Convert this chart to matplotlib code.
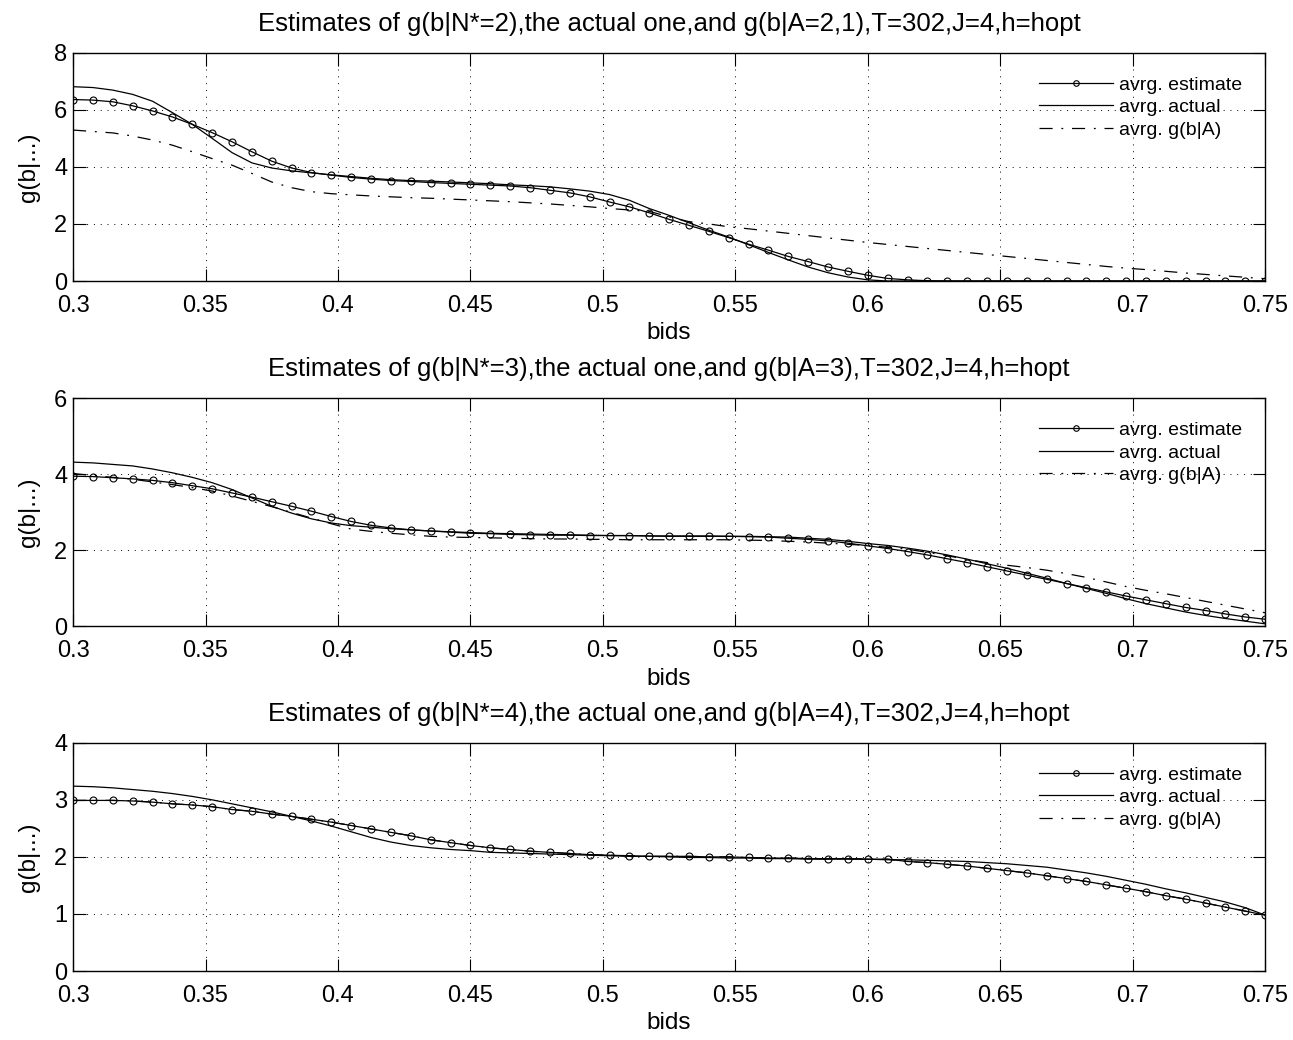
import matplotlib
matplotlib.use("Agg")
import matplotlib.pyplot as plt
import numpy as np

plt.rcParams['font.family'] = ['Liberation Sans', 'DejaVu Sans']

# bid grid: 61 points from 0.3 to 0.75 (step 0.0075)
bids = np.linspace(0.3, 0.75, 61)

# panel 1: N*=2
est1 = [6.36, 6.34, 6.28, 6.14, 5.96, 5.75, 5.49, 5.20, 4.88, 4.53,
        4.20, 3.96, 3.80, 3.71, 3.63, 3.57, 3.52, 3.49, 3.45, 3.42,
        3.39, 3.36, 3.33, 3.27, 3.18, 3.09, 2.95, 2.77, 2.60, 2.39,
        2.16, 1.95, 1.74, 1.52, 1.29, 1.08, 0.86, 0.68, 0.49, 0.34,
        0.20, 0.09, 0.04, 0.01, 0.0, 0.0, 0.0, 0.0, 0.0, 0.0,
        0.0, 0.0, 0.0, 0.0, 0.0, 0.0, 0.0, 0.0, 0.0, 0.0, 0.0]
act1 = [6.81, 6.78, 6.69, 6.54, 6.30, 5.90, 5.49, 5.00, 4.50, 4.14,
        3.96, 3.86, 3.79, 3.72, 3.66, 3.60, 3.55, 3.52, 3.50, 3.47,
        3.44, 3.41, 3.37, 3.34, 3.30, 3.23, 3.15, 3.03, 2.83, 2.54,
        2.30, 2.04, 1.78, 1.54, 1.27, 1.00, 0.74, 0.49, 0.29, 0.14,
        0.04, 0.0, 0.0, 0.0, 0.0, 0.0, 0.0, 0.0, 0.0, 0.0,
        0.0, 0.0, 0.0, 0.0, 0.0, 0.0, 0.0, 0.0, 0.0, 0.0, 0.0]
gA1 = [5.29, 5.24, 5.19, 5.08, 4.94, 4.76, 4.53, 4.29, 4.06, 3.77,
       3.47, 3.27, 3.13, 3.06, 3.02, 2.98, 2.95, 2.92, 2.90, 2.87,
       2.84, 2.81, 2.78, 2.74, 2.70, 2.65, 2.60, 2.54, 2.49, 2.44,
       2.25, 2.08, 2.00, 1.90, 1.83, 1.75, 1.67, 1.59, 1.51, 1.43,
       1.35, 1.28, 1.21, 1.14, 1.07, 1.00, 0.93, 0.86, 0.79, 0.72,
       0.65, 0.58, 0.51, 0.45, 0.40, 0.34, 0.28, 0.23, 0.18, 0.13, 0.08]

# panel 2: N*=3
est2 = [3.95, 3.94, 3.91, 3.88, 3.84, 3.78, 3.70, 3.62, 3.51, 3.40,
        3.28, 3.16, 3.03, 2.89, 2.76, 2.66, 2.59, 2.54, 2.51, 2.48,
        2.45, 2.44, 2.42, 2.41, 2.40, 2.40, 2.39, 2.39, 2.39, 2.38,
        2.37, 2.37, 2.37, 2.37, 2.36, 2.35, 2.32, 2.29, 2.25, 2.19,
        2.12, 2.05, 1.97, 1.88, 1.78, 1.68, 1.57, 1.46, 1.35, 1.24,
        1.13, 1.02, 0.91, 0.80, 0.70, 0.60, 0.50, 0.42, 0.33, 0.25, 0.19]
act2 = [4.32, 4.30, 4.26, 4.22, 4.14, 4.04, 3.92, 3.78, 3.60, 3.38,
        3.16, 2.98, 2.83, 2.72, 2.65, 2.61, 2.57, 2.54, 2.51, 2.49,
        2.47, 2.45, 2.44, 2.43, 2.42, 2.41, 2.40, 2.39, 2.39, 2.38,
        2.38, 2.38, 2.38, 2.37, 2.37, 2.36, 2.35, 2.32, 2.29, 2.24,
        2.18, 2.13, 2.06, 1.98, 1.88, 1.77, 1.65, 1.53, 1.40, 1.27,
        1.13, 1.00, 0.87, 0.73, 0.60, 0.49, 0.38, 0.29, 0.21, 0.14, 0.07]
gA2 = [4.02, 3.97, 3.92, 3.87, 3.80, 3.73, 3.65, 3.56, 3.43, 3.29,
       3.15, 3.00, 2.85, 2.70, 2.56, 2.50, 2.45, 2.41, 2.37, 2.35,
       2.34, 2.33, 2.32, 2.31, 2.30, 2.30, 2.29, 2.29, 2.28, 2.28,
       2.28, 2.28, 2.28, 2.28, 2.27, 2.26, 2.24, 2.22, 2.19, 2.16,
       2.13, 2.08, 2.03, 1.95, 1.86, 1.76, 1.68, 1.61, 1.55, 1.48,
       1.39, 1.29, 1.17, 1.05, 0.95, 0.86, 0.76, 0.66, 0.56, 0.46, 0.36]

# panel 3: N*=4
est3 = [2.99, 2.99, 2.99, 2.98, 2.96, 2.93, 2.91, 2.88, 2.83, 2.80,
        2.75, 2.71, 2.66, 2.61, 2.55, 2.49, 2.43, 2.37, 2.30, 2.25,
        2.20, 2.16, 2.13, 2.10, 2.08, 2.06, 2.04, 2.03, 2.02, 2.01,
        2.01, 2.01, 2.00, 2.00, 1.99, 1.98, 1.98, 1.97, 1.97, 1.97,
        1.96, 1.96, 1.92, 1.90, 1.87, 1.84, 1.80, 1.76, 1.72, 1.67,
        1.62, 1.57, 1.51, 1.45, 1.39, 1.32, 1.26, 1.19, 1.12, 1.05, 0.98]
act3 = [3.24, 3.23, 3.21, 3.18, 3.15, 3.11, 3.06, 3.00, 2.93, 2.86,
        2.79, 2.71, 2.63, 2.54, 2.44, 2.34, 2.26, 2.20, 2.16, 2.13,
        2.11, 2.08, 2.07, 2.06, 2.05, 2.04, 2.03, 2.02, 2.01, 2.01,
        2.00, 1.99, 1.99, 1.98, 1.98, 1.97, 1.97, 1.96, 1.96, 1.96,
        1.96, 1.95, 1.95, 1.94, 1.93, 1.92, 1.90, 1.88, 1.85, 1.82,
        1.77, 1.72, 1.66, 1.59, 1.52, 1.44, 1.37, 1.29, 1.21, 1.11, 0.98]
gA3 = list(est3)

titles = [
    "Estimates of g(b|N*=2),the actual one,and g(b|A=2,1),T=302,J=4,h=hopt",
    "Estimates of g(b|N*=3),the actual one,and g(b|A=3),T=302,J=4,h=hopt",
    "Estimates of g(b|N*=4),the actual one,and g(b|A=4),T=302,J=4,h=hopt",
]
ymaxs = [8, 6, 4]
yticks = [[0, 2, 4, 6, 8], [0, 2, 4, 6], [0, 1, 2, 3, 4]]
xticks = [0.3, 0.35, 0.4, 0.45, 0.5, 0.55, 0.6, 0.65, 0.7, 0.75]
xticklabels = ["0.3", "0.35", "0.4", "0.45", "0.5", "0.55", "0.6", "0.65", "0.7", "0.75"]

series = [(est1, act1, gA1), (est2, act2, gA2), (est3, act3, gA3)]

fig = plt.figure(figsize=(12.93, 10.4), dpi=100)
bottoms = [0.7298, 0.3976, 0.0663]
dashdot = (0, (10.5, 7, 1.5, 7))

for i, (est, act, gA) in enumerate(series):
    ax = fig.add_axes([0.0565, bottoms[i], 0.922, 0.2195])
    ax.plot(bids, est, '-', color='black', lw=0.9, marker='o', markersize=5,
            markerfacecolor='none', markeredgewidth=0.8, label='avrg. estimate')
    ax.plot(bids, act, '-', color='black', lw=0.9, label='avrg. actual')
    ax.plot(bids, gA, color='black', lw=0.9, linestyle=dashdot, label='avrg. g(b|A)')
    ax.set_xlim(0.3, 0.75)
    ax.set_ylim(0, ymaxs[i])
    ax.set_xticks(xticks)
    ax.set_xticklabels(xticklabels)
    ax.set_yticks(yticks[i])
    ax.grid(True, linestyle=(0, (1, 6)), color='black', linewidth=0.7)
    ax.tick_params(direction='in', length=9, width=0.8, top=True, right=True,
                   labelsize=17)
    ax.tick_params(axis='x', pad=10)
    ax.tick_params(axis='y', pad=4)
    for s in ax.spines.values():
        s.set_linewidth(1.0)
    ax.set_title(titles[i], fontsize=18.5, pad=16)
    ax.set_xlabel('bids', fontsize=17.5, labelpad=4)
    ax.set_ylabel('g(b|...)', fontsize=17.5, labelpad=10)
    leg = ax.legend(loc='upper right', frameon=False, fontsize=14, handlelength=3.8,
                    labelspacing=0.25, handletextpad=0.3, borderaxespad=0.9,
                    borderpad=0.3)
    leg.legend_handles[0].set_markersize(4)

fig.savefig('out.png', dpi=100)
